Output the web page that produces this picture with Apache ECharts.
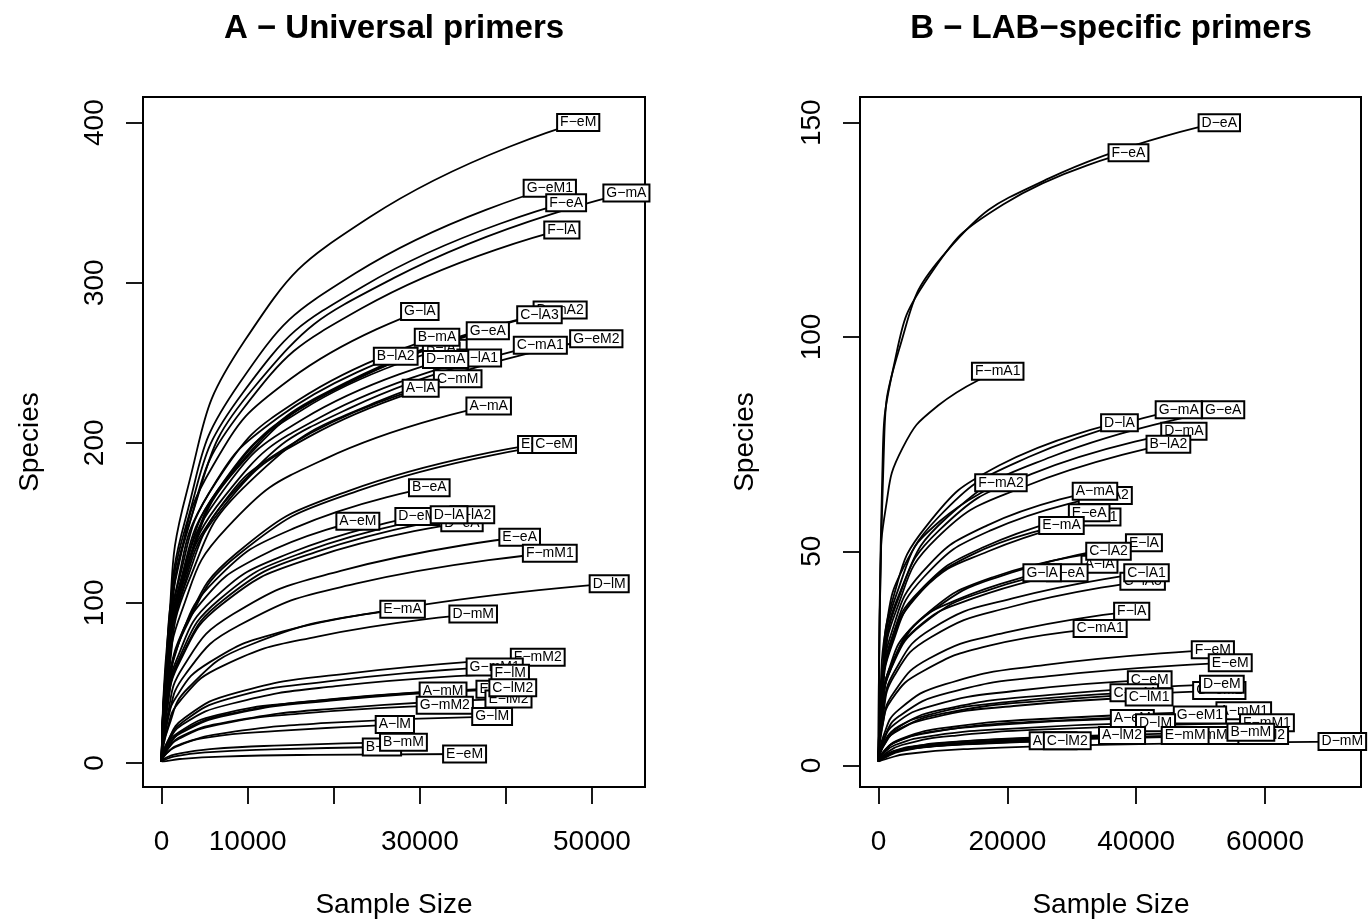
<!DOCTYPE html>
<html>
<head>
<meta charset="utf-8">
<title>Rarefaction curves</title>
<script src="https://cdn.jsdelivr.net/npm/echarts@6/dist/echarts.min.js"></script>
<style>
  html, body { margin: 0; padding: 0; background: #fff; }
  #chart { width: 1368px; height: 924px; }
</style>
</head>
<body>
<div id="chart"></div>
<script>
// Panel A - universal primers: sample names, then x (reads) and y (species) along each curve
const namesA = ['F−eM', 'G−eM1', 'F−eA', 'G−mA', 'F−lA', 'G−lA', 'D−mA2', 'C−lA3', 'G−eA', 'B−lA1',
  'E−lA1', 'B−mA', 'G−eM2', 'C−mA1', 'B−lA2', 'D−mA', 'C−mM', 'A−lA', 'A−mA', 'E−lA',
  'C−eM', 'B−eA', 'A−eM', 'D−eM', 'D−eA', 'A−lA2', 'D−lA', 'E−eA', 'F−mM1', 'D−lM',
  'E−mA', 'D−mM', 'F−mM2', 'G−mM1', 'F−lM', 'E−mM', 'E−lM2', 'C−lM2', 'A−mM', 'G−mM2',
  'G−lM', 'A−lM', 'B−lM', 'B−mM', 'E−eM']
const curveXA = [
  [1, 726, 2904, 9680, 24200, 48400], [1, 677, 2706, 9020, 22550, 45100], [1, 705, 2820, 9400, 23500, 47000],
  [1, 810, 3240, 10800, 27000, 54000], [1, 698, 2790, 9300, 23250, 46500], [1, 450, 1800, 6000, 15000, 30000],
  [1, 695, 2778, 9260, 23150, 46300], [1, 659, 2634, 8780, 21950, 43900], [1, 569, 2274, 7580, 18950, 37900],
  [1, 494, 1974, 6580, 16450, 32900], [1, 554, 2214, 7380, 18450, 36900], [1, 480, 1920, 6400, 16000, 32000],
  [1, 758, 3030, 10100, 25250, 50500], [1, 660, 2640, 8800, 22000, 44000], [1, 408, 1632, 5440, 13600, 27200],
  [1, 495, 1980, 6600, 16500, 33000], [1, 516, 2064, 6880, 17200, 34400], [1, 452, 1806, 6020, 15050, 30100],
  [1, 570, 2280, 7600, 19000, 38000], [1, 653, 2610, 8700, 21750, 43500], [1, 684, 2736, 9120, 22800, 45600],
  [1, 467, 1866, 6220, 15550, 31100], [1, 342, 1368, 4560, 11400, 22800], [1, 446, 1782, 5940, 14850, 29700],
  [1, 524, 2094, 6980, 17450, 34900], [1, 542, 2166, 7220, 18050, 36100], [1, 501, 2004, 6680, 16700, 33400],
  [1, 624, 2496, 8320, 20800, 41600], [1, 677, 2706, 9020, 22550, 45100], [1, 780, 3120, 10400, 26000, 52000],
  [1, 420, 1680, 5600, 14000, 28000], [1, 543, 2172, 7240, 18100, 36200], [1, 656, 2622, 8740, 21850, 43700],
  [1, 581, 2322, 7740, 19350, 38700], [1, 608, 2430, 8100, 20250, 40500], [1, 590, 2358, 7860, 19650, 39300],
  [1, 605, 2418, 8060, 20150, 40300], [1, 612, 2448, 8160, 20400, 40800], [1, 491, 1962, 6540, 16350, 32700],
  [1, 494, 1974, 6580, 16450, 32900], [1, 576, 2304, 7680, 19200, 38400], [1, 407, 1626, 5420, 13550, 27100],
  [1, 384, 1536, 5120, 12800, 25600], [1, 422, 1686, 5620, 14050, 28100], [1, 528, 2112, 7040, 17600, 35200]
]
const curveYA = [
  [1, 80, 169, 264, 341, 400], [1, 71, 151, 237, 306, 359], [1, 70, 148, 231, 298, 350],
  [1, 71, 150, 235, 303, 356], [1, 66, 141, 220, 284, 333], [1, 56, 119, 186, 240, 282],
  [1, 56, 119, 187, 241, 283], [1, 56, 118, 185, 239, 280], [1, 54, 114, 178, 230, 270],
  [1, 52, 109, 171, 221, 259], [1, 50, 107, 167, 216, 253], [1, 53, 112, 176, 227, 266],
  [1, 53, 112, 175, 226, 265], [1, 52, 110, 172, 222, 261], [1, 51, 107, 168, 216, 254],
  [1, 50, 106, 166, 215, 252], [1, 48, 101, 158, 204, 240], [1, 47, 99, 154, 199, 234],
  [1, 44, 94, 147, 190, 223], [1, 40, 84, 131, 170, 199], [1, 40, 84, 131, 170, 199],
  [1, 34, 73, 114, 147, 172], [1, 30, 64, 100, 129, 151], [1, 31, 65, 102, 131, 154],
  [1, 30, 63, 99, 128, 150], [1, 31, 65, 102, 132, 155], [1, 31, 65, 102, 132, 155],
  [1, 28, 60, 93, 120, 141], [1, 26, 55, 86, 112, 131], [1, 22, 47, 74, 95, 112],
  [1, 19, 41, 63, 82, 96], [1, 19, 39, 61, 79, 93], [1, 13, 28, 44, 56, 66],
  [1, 12, 25, 40, 51, 60], [1, 11, 24, 37, 48, 56], [1, 9, 19, 30, 39, 46],
  [1, 8, 17, 26, 34, 40], [1, 9, 20, 31, 40, 47], [1, 9, 19, 30, 38, 45],
  [1, 7, 15, 24, 31, 36], [1, 6, 12, 19, 25, 29], [1, 5, 10, 16, 20, 24],
  [1, 2, 4.2, 6.6, 8.5, 10], [1, 3, 5.5, 8.6, 11, 13], [1, 1.2, 2.5, 4, 5.1, 5.6]
]

// Panel B - LAB-specific primers
const namesB = ['D−eA', 'F−eA', 'F−mA1', 'G−mA', 'G−eA', 'D−lA', 'D−mA', 'B−lA2', 'F−mA2', 'C−mA2',
  'A−mA', 'D−lA1', 'E−eA', 'E−mA', 'E−lA', 'A−lA', 'C−lA2', 'B−eA', 'G−lA', 'C−lA3',
  'C−lA1', 'F−lA', 'C−mA1', 'F−eM', 'E−eM', 'C−eM', 'G−eM2', 'D−eM', 'C−mM', 'C−lM1',
  'A−mM1', 'G−eM1', 'A−eM', 'D−lM', 'F−mM1', 'F−mM2', 'G−mM2', 'A−lM2', 'E−mM', 'B−mM',
  'A−mM', 'C−lM2', 'D−mM']
const curveXB = [
  [1, 794, 3174, 10580, 26450, 52900], [1, 582, 2328, 7760, 19400, 38800], [1, 278, 1110, 3700, 9250, 18500],
  [1, 699, 2796, 9320, 23300, 46600], [1, 803, 3210, 10700, 26750, 53500], [1, 561, 2244, 7480, 18700, 37400],
  [1, 711, 2844, 9480, 23700, 47400], [1, 675, 2700, 9000, 22500, 45000], [1, 285, 1140, 3800, 9500, 19000],
  [1, 528, 2112, 7040, 17600, 35200], [1, 504, 2016, 6720, 16800, 33600], [1, 512, 2046, 6820, 17050, 34100],
  [1, 491, 1962, 6540, 16350, 32700], [1, 426, 1704, 5680, 14200, 28400], [1, 618, 2472, 8240, 20600, 41200],
  [1, 515, 2058, 6860, 17150, 34300], [1, 536, 2142, 7140, 17850, 35700], [1, 440, 1758, 5860, 14650, 29300],
  [1, 381, 1524, 5080, 12700, 25400], [1, 615, 2460, 8200, 20500, 41000], [1, 624, 2496, 8320, 20800, 41600],
  [1, 590, 2358, 7860, 19650, 39300], [1, 516, 2064, 6880, 17200, 34400], [1, 779, 3114, 10380, 25950, 51900],
  [1, 819, 3276, 10920, 27300, 54600], [1, 632, 2526, 8420, 21050, 42100], [1, 794, 3174, 10580, 26450, 52900],
  [1, 800, 3198, 10660, 26650, 53300], [1, 596, 2382, 7940, 19850, 39700], [1, 630, 2520, 8400, 21000, 42000],
  [1, 851, 3402, 11340, 28350, 56700], [1, 749, 2994, 9980, 24950, 49900], [1, 591, 2364, 7880, 19700, 39400],
  [1, 645, 2580, 8600, 21500, 43000], [1, 905, 3618, 12060, 30150, 60300], [1, 891, 3564, 11880, 29700, 59400],
  [1, 773, 3090, 10300, 25750, 51500], [1, 567, 2268, 7560, 18900, 37800], [1, 714, 2856, 9520, 23800, 47600],
  [1, 867, 3468, 11560, 28900, 57800], [1, 407, 1626, 5420, 13550, 27100], [1, 440, 1758, 5860, 14650, 29300],
  [1, 1080, 4320, 14400, 36000, 72000]
]
const curveYB = [
  [1, 72, 97, 120, 137, 150], [1, 68, 93, 114, 131, 143], [1, 44, 60, 74, 84, 92],
  [1, 22, 40, 58, 72, 83], [1, 22, 40, 58, 72, 83], [1, 21, 39, 56, 70, 80],
  [1, 20, 38, 55, 68, 78], [1, 20, 36, 53, 65, 75], [1, 17, 32, 46, 57, 66],
  [1, 16, 30, 44, 55, 63], [1, 17, 31, 45, 56, 64], [1, 15, 28, 41, 50, 58],
  [1, 15, 29, 41, 51, 59], [1, 15, 27, 39, 49, 56], [1, 14, 25, 36, 45, 52],
  [1, 12, 23, 33, 41, 47], [1, 13, 24, 35, 44, 50], [1, 12, 22, 32, 39, 45],
  [1, 12, 22, 32, 39, 45], [1, 11, 21, 30, 37, 43], [1, 12, 22, 32, 39, 45],
  [1, 9.4, 17, 25, 31, 36], [1, 8.4, 15.5, 22, 28, 32], [1, 7, 13, 19, 23.5, 27],
  [1, 6.3, 11.6, 17, 21, 24], [1, 5.2, 9.7, 14, 17.4, 20], [1, 4.6, 8.5, 12.3, 15.2, 17.5],
  [1, 5, 9.2, 13.3, 16.5, 19], [1, 4.4, 8.2, 11.9, 14.8, 17], [1, 4.2, 7.7, 11.2, 13.9, 16],
  [1, 3.3, 6.2, 9, 11.1, 12.8], [1, 3.1, 5.7, 8.3, 10.3, 11.8], [1, 2.9, 5.3, 7.7, 9.6, 11],
  [1, 2.6, 4.8, 7, 8.7, 10], [1, 2.6, 4.8, 7, 8.7, 10], [1, 1.8, 3.4, 4.9, 6.1, 7],
  [1, 1.8, 3.4, 4.9, 6.1, 7], [1, 1.8, 3.4, 4.9, 6.1, 7], [1, 1.8, 3.4, 4.9, 6.1, 7],
  [1, 2, 3.8, 5.5, 6.8, 7.8], [1, 1.5, 2.8, 4.1, 5, 5.8], [1, 1.5, 2.8, 4.1, 5, 5.8],
  [1, 1.5, 2.7, 3.9, 4.9, 5.6]
]

// tick marks / labels
const xTicksA = [0, 10000, 20000, 30000, 40000, 50000]
const xLabelsA = [0, 10000, 30000, 50000]
const yTicksA = [0, 100, 200, 300, 400]
const xTicksB = [0, 20000, 40000, 60000]
const yTicksB = [0, 50, 100, 150]

const FONT = "'Liberation Sans', Arial, Helvetica, sans-serif"

function xAxisFor (gi, min, max, ticks, labels) {
  return {
    type: 'value',
    gridIndex: gi,
    min: min,
    max: max,
    axisLine: { show: true, onZero: false, lineStyle: { color: '#000', width: 2 } },
    axisTick: { show: true, customValues: ticks, length: 17, lineStyle: { color: '#000', width: 1.8 } },
    axisLabel: { customValues: labels, margin: 41, fontSize: 28, color: '#000', fontFamily: FONT, formatter: v => String(v) },
    splitLine: { show: false }
  }
}

function yAxisFor (gi, min, max, ticks) {
  return {
    type: 'value',
    gridIndex: gi,
    min: min,
    max: max,
    axisLine: { show: true, onZero: false, lineStyle: { color: '#000', width: 2 } },
    axisTick: { show: true, customValues: ticks, length: 17, lineStyle: { color: '#000', width: 1.8 } },
    axisLabel: { customValues: ticks, rotate: 90, margin: 34, fontSize: 28, color: '#000', fontFamily: FONT, formatter: v => String(v) },
    splitLine: { show: false }
  }
}

function panelSeries (names, xs, ys, gi) {
  const out = []
  names.forEach((n, i) => {
    out.push({
      type: 'line',
      name: n,
      xAxisIndex: gi,
      yAxisIndex: gi,
      data: xs[i].map((x, j) => [x, ys[i][j]]),
      showSymbol: false,
      symbol: 'none',
      smooth: 0.5,
      silent: true,
      lineStyle: { color: '#000', width: 1.8 }
    })
  })
  // boxed sample labels centred on the end of each curve
  out.push({
    type: 'scatter',
    xAxisIndex: gi,
    yAxisIndex: gi,
    silent: true,
    symbolSize: 1,
    itemStyle: { color: '#000', opacity: 1 },
    z: 5,
    data: names.map((n, i) => {
      const k = xs[i].length - 1
      return { name: n, value: [xs[i][k], ys[i][k]] }
    }),
    label: {
      show: true,
      position: 'inside',
      formatter: '{b}',
      fontSize: 14,
      fontFamily: FONT,
      color: '#000',
      opacity: 1,
      backgroundColor: '#fff',
      borderColor: '#000',
      borderWidth: 2,
      padding: [1, 2, 0, 2],
      lineHeight: 14
    }
  })
  return out
}

const chart = echarts.init(document.getElementById('chart'), null, { renderer: 'canvas' })
chart.setOption({
  animation: false,
  backgroundColor: '#fff',
  grid: [
    { left: 143, top: 97, width: 502, height: 690, show: true, borderColor: '#000', borderWidth: 2, backgroundColor: 'transparent', outerBoundsMode: 'none' },
    { left: 860, top: 97, width: 501, height: 690, show: true, borderColor: '#000', borderWidth: 2, backgroundColor: 'transparent', outerBoundsMode: 'none' }
  ],
  xAxis: [
    xAxisFor(0, -2160, 56160, xTicksA, xLabelsA),
    xAxisFor(1, -2880, 74900, xTicksB, xTicksB)
  ],
  yAxis: [
    yAxisFor(0, -15, 416, yTicksA),
    yAxisFor(1, -5, 156, yTicksB)
  ],
  graphic: [
    { type: 'text', style: { text: 'A − Universal primers', font: 'bold 33px ' + FONT, fill: '#000' }, position: [394, 29] },
    { type: 'text', style: { text: 'B − LAB−specific primers', font: 'bold 33px ' + FONT, fill: '#000' }, position: [1111, 29] },
    { type: 'text', style: { text: 'Sample Size', font: '28px ' + FONT, fill: '#000' }, position: [394, 905] },
    { type: 'text', style: { text: 'Sample Size', font: '28px ' + FONT, fill: '#000' }, position: [1111, 905] },
    { type: 'text', style: { text: 'Species', font: '28px ' + FONT, fill: '#000' }, position: [30, 442], rotation: Math.PI / 2 },
    { type: 'text', style: { text: 'Species', font: '28px ' + FONT, fill: '#000' }, position: [745, 442], rotation: Math.PI / 2 }
  ].map(g => {
    g.style.textAlign = 'center'
    g.style.textVerticalAlign = 'middle'
    return g
  }),
  series: panelSeries(namesA, curveXA, curveYA, 0).concat(panelSeries(namesB, curveXB, curveYB, 1))
})
</script>
</body>
</html>
